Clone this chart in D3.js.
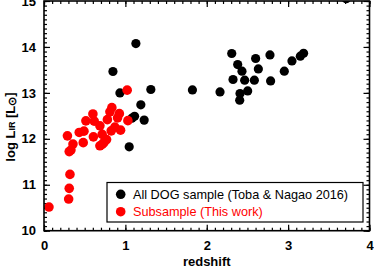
<!DOCTYPE html>
<html>
<head>
<meta charset="utf-8">
<script src="https://cdn.jsdelivr.net/npm/d3@7"></script>
<style>
  body { margin: 0; background: #fff; }
  svg { display: block; }
  .tick text { font-family: "Liberation Sans", Arial, sans-serif; }
</style>
</head>
<body>
<div id="chart"></div>
<script>
// All DOG sample (Toba & Nagao 2016): redshift, log L_IR
var allZ = [1.129, 0.847, 0.933, 1.313, 1.190, 1.113, 1.080, 1.231, 1.047,
    1.824, 2.163, 2.307, 2.380, 2.433, 2.323, 2.466, 2.585, 2.601, 2.634,
    2.777, 2.785, 2.409, 2.503, 2.405, 2.953, 3.047, 3.150, 3.190, 3.714];
var allL = [14.074, 13.465, 13.0, 13.074, 12.739, 12.49, 12.45, 12.407, 11.826,
    13.065, 13.02, 13.857, 13.617, 13.472, 13.291, 13.276, 13.276, 13.748, 13.522,
    13.826, 13.261, 12.987, 13.043, 12.841, 13.472, 13.696, 13.798, 13.863, 15.05];

// Subsample (This work)
var subZ = [1.022, 0.834, 0.810, 0.601, 0.926, 0.904, 0.515, 0.617, 0.779, 0.687,
    1.031, 0.871, 0.941, 0.491, 0.433, 0.607, 0.715, 0.769, 0.715, 0.687,
    0.288, 0.482, 0.356, 0.331, 0.310, 0.319, 0.310, 0.303, 0.061, 0.736, 0.826];
var subL = [13.059, 12.678, 12.587, 12.541, 12.548, 12.457, 12.391, 12.385, 12.417, 12.283,
    12.396, 12.254, 12.189, 12.167, 12.139, 12.043, 12.096, 11.983, 11.878, 11.848,
    12.065, 11.917, 11.885, 11.754, 11.722, 11.226, 10.922, 10.689, 10.515, 11.917, 12.174];

var xTicks = [0, 1, 2, 3, 4];
var yTicks = [10, 11, 12, 13, 14, 15];
var legendLabels = ["All DOG sample (Toba & Nagao 2016)", "Subsample (This work)"];
var legendColors = ["#000000", "#ff0000"];

var svgWidth = 374;
var svgHeight = 268;
var margin = { top: 1, right: 4.5, bottom: 37.3, left: 44 };
var width = svgWidth - margin.left - margin.right;
var height = svgHeight - margin.top - margin.bottom;
var font = "'Liberation Sans', Arial, sans-serif";

var svg = d3.select("#chart")
    .append("svg")
    .attr("width", svgWidth)
    .attr("height", svgHeight);

var chartGroup = svg.append("g")
    .attr("transform", `translate(${margin.left}, ${margin.top})`);

var x = d3.scaleLinear().domain([0, 4]).range([0, width]);
var y = d3.scaleLinear().domain([10, 15]).range([height, 0]);

var xMinor = d3.range(0, 40.5).map(d => d / 10);
var yMinor = d3.range(100, 150.5).map(d => d / 10);

function styleAxis(g) {
    g.select(".domain").remove();
    g.selectAll("line").attr("stroke", "#000").attr("stroke-width", 1.2);
}

// minor ticks on all four sides
chartGroup.append("g").attr("transform", `translate(0, ${height})`)
    .call(d3.axisTop(x).tickValues(xMinor).tickSize(3).tickFormat(""))
    .call(styleAxis);
chartGroup.append("g")
    .call(d3.axisBottom(x).tickValues(xMinor).tickSize(3).tickFormat(""))
    .call(styleAxis);
chartGroup.append("g")
    .call(d3.axisRight(y).tickValues(yMinor).tickSize(3).tickFormat(""))
    .call(styleAxis);
chartGroup.append("g").attr("transform", `translate(${width}, 0)`)
    .call(d3.axisLeft(y).tickValues(yMinor).tickSize(3).tickFormat(""))
    .call(styleAxis);

// major ticks
var xAxis = chartGroup.append("g").attr("transform", `translate(0, ${height})`)
    .call(d3.axisTop(x).tickValues(xTicks).tickSize(6).tickFormat(d3.format("d")))
    .call(styleAxis);
xAxis.selectAll("text")
    .attr("y", 10.5)
    .attr("dy", "0.71em")
    .attr("font-size", "13px")
    .attr("font-weight", "bold")
    .attr("fill", "#000");
chartGroup.append("g")
    .call(d3.axisBottom(x).tickValues(xTicks).tickSize(6).tickFormat(""))
    .call(styleAxis);

var yAxis = chartGroup.append("g")
    .call(d3.axisRight(y).tickValues(yTicks).tickSize(6).tickFormat(d3.format("d")))
    .call(styleAxis);
yAxis.selectAll("text")
    .attr("x", -8)
    .attr("text-anchor", "end")
    .attr("font-size", "13px")
    .attr("font-weight", "bold")
    .attr("fill", "#000");
chartGroup.append("g").attr("transform", `translate(${width}, 0)`)
    .call(d3.axisLeft(y).tickValues(yTicks).tickSize(6).tickFormat(""))
    .call(styleAxis);

// clip for points
chartGroup.append("clipPath").attr("id", "plotClip")
    .append("rect").attr("width", width).attr("height", height);

var allData = allZ.map((z, i) => ({ z: z, L: allL[i] }));
var subData = subZ.map((z, i) => ({ z: z, L: subL[i] }));

var pts = chartGroup.append("g").attr("clip-path", "url(#plotClip)");
pts.selectAll("circle.all")
    .data(allData)
    .enter()
    .append("circle")
    .attr("class", "all")
    .attr("cx", d => x(d.z))
    .attr("cy", d => y(d.L))
    .attr("r", 4.6)
    .attr("fill", legendColors[0]);
pts.selectAll("circle.sub")
    .data(subData)
    .enter()
    .append("circle")
    .attr("class", "sub")
    .attr("cx", d => x(d.z))
    .attr("cy", d => y(d.L))
    .attr("r", 4.8)
    .attr("fill", legendColors[1]);

// frame
chartGroup.append("rect")
    .attr("width", width)
    .attr("height", height)
    .attr("fill", "none")
    .attr("stroke", "#000")
    .attr("stroke-width", 1.6);

// legend
var legend = svg.append("g").attr("transform", "translate(107, 182.5)");
legend.append("rect")
    .attr("width", 256)
    .attr("height", 39.5)
    .attr("fill", "#fff")
    .attr("stroke", "#000")
    .attr("stroke-width", 1.2);
legendLabels.forEach(function(label, i) {
    legend.append("circle")
        .attr("cx", 13.7)
        .attr("cy", 11.8 + i * 17.4)
        .attr("r", 4.8)
        .attr("fill", legendColors[i]);
    legend.append("text")
        .attr("x", 26)
        .attr("y", 11.8 + i * 17.4)
        .attr("dy", "0.35em")
        .attr("font-family", font)
        .attr("font-size", "12.7px")
        .attr("fill", legendColors[i])
        .text(label);
});

// axis titles
svg.append("text")
    .attr("x", margin.left + width / 2)
    .attr("y", 261)
    .attr("dy", "0.35em")
    .attr("text-anchor", "middle")
    .attr("font-family", font)
    .attr("font-size", "13px")
    .attr("font-weight", "bold")
    .text("redshift");

var yTitle = svg.append("text")
    .attr("transform", "translate(10, 127) rotate(-90)")
    .attr("dy", "0.35em")
    .attr("text-anchor", "middle")
    .attr("font-family", font)
    .attr("font-size", "13px")
    .attr("font-weight", "bold");
yTitle.append("tspan").text("log L");
yTitle.append("tspan").attr("font-size", "9px").text("IR");
yTitle.append("tspan").text(" [L");
yTitle.append("tspan").attr("font-size", "11px").attr("dy", "0.15em").text("\u2299");
yTitle.append("tspan").attr("dy", "-0.15em").text("]");
</script>
</body>
</html>
